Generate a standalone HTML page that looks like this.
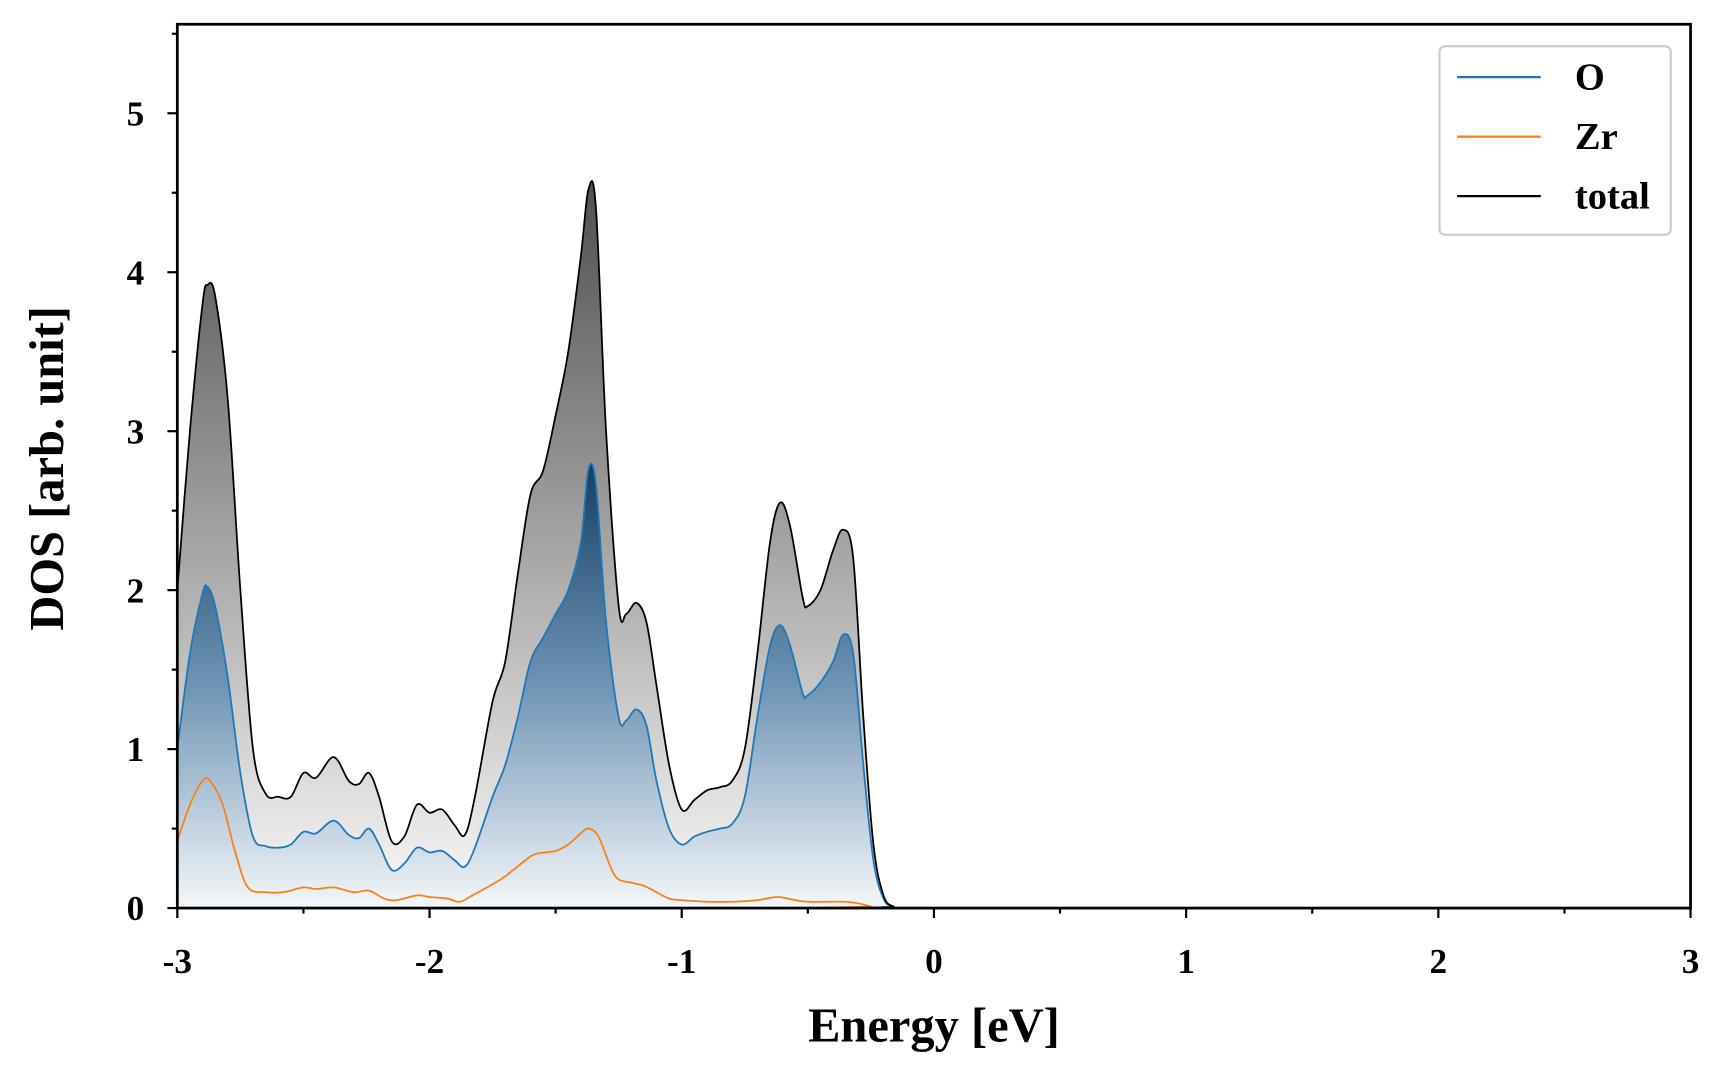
<!DOCTYPE html>
<html><head><meta charset="utf-8"><style>
html,body{margin:0;padding:0;background:#fff}
svg{display:block;font-family:"Liberation Serif",serif;font-weight:bold}
</style></head><body>
<svg id="chart" width="1728" height="1080" viewBox="0 0 1569 980" preserveAspectRatio="none" xmlns="http://www.w3.org/2000/svg">
<defs>
<linearGradient id="gGray" gradientUnits="userSpaceOnUse" x1="0" y1="168" x2="0" y2="824">
<stop offset="0" stop-color="#505050"/><stop offset="1" stop-color="#fafafa"/></linearGradient>
<linearGradient id="gBlue" gradientUnits="userSpaceOnUse" x1="0" y1="423" x2="0" y2="824">
<stop offset="0" stop-color="#143f66"/><stop offset="0.5" stop-color="#6f95b5"/><stop offset="1" stop-color="#f4f7fa"/></linearGradient>
<clipPath id="clip"><rect x="161" y="22" width="1374" height="802"/></clipPath>
</defs>
<g id="plot" clip-path="url(#clip)"></g>
<g id="axes"></g>
<g id="legend">
<rect x="1307" y="42" width="210" height="171" rx="5" fill="#fff" stroke="#cccccc" stroke-width="2"/>
<line x1="1323" y1="70" x2="1399" y2="70" stroke="#1f77b4" stroke-width="2"/>
<text x="1430" y="81" font-size="35">O</text>
<line x1="1323" y1="124" x2="1399" y2="124" stroke="#ff7f0e" stroke-width="2"/>
<text x="1430" y="135" font-size="35">Zr</text>
<line x1="1323" y1="178" x2="1399" y2="178" stroke="#000" stroke-width="2"/>
<text x="1430" y="189" font-size="35">total</text>
</g>
<text x="848" y="945" font-size="44" text-anchor="middle">Energy [eV]</text>
<text transform="translate(57,425) rotate(-90)" font-size="44" text-anchor="middle">DOS [arb. unit]</text>
</svg>
<script>
const energy = [-3,-2.95,-2.9,-2.88,-2.85,-2.8,-2.75,-2.7,-2.65,-2.6,-2.55,-2.5,-2.45,-2.38,-2.32,-2.28,-2.24,-2.2,-2.15,-2.1,-2.05,-2.0,-1.95,-1.9,-1.86,-1.82,-1.75,-1.7,-1.65,-1.6,-1.55,-1.5,-1.45,-1.4,-1.37,-1.34,-1.3,-1.25,-1.22,-1.18,-1.14,-1.1,-1.05,-1.0,-0.95,-0.9,-0.85,-0.8,-0.75,-0.7,-0.65,-0.61,-0.57,-0.52,-0.5,-0.45,-0.4,-0.36,-0.32,-0.28,-0.24,-0.2,-0.16,-0.1,3];
const totalDos = [2.0,3.0,3.8,3.92,3.85,3.2,2.0,1.0,0.72,0.70,0.70,0.85,0.82,0.95,0.80,0.78,0.85,0.70,0.42,0.45,0.65,0.60,0.62,0.52,0.46,0.70,1.30,1.55,2.10,2.60,2.75,3.10,3.50,4.10,4.52,4.40,3.00,1.90,1.85,1.92,1.80,1.40,0.90,0.62,0.68,0.74,0.76,0.80,1.00,1.60,2.30,2.55,2.40,1.95,1.90,2.00,2.25,2.38,2.20,1.20,0.40,0.08,0.01,0,0];
const oDos = [1.0,1.6,1.98,2.02,1.9,1.45,0.85,0.45,0.39,0.38,0.40,0.48,0.47,0.55,0.46,0.44,0.50,0.40,0.24,0.28,0.38,0.35,0.36,0.30,0.26,0.38,0.70,0.90,1.20,1.55,1.70,1.85,2.00,2.30,2.76,2.66,1.80,1.20,1.18,1.25,1.15,0.80,0.50,0.40,0.45,0.48,0.50,0.53,0.70,1.20,1.65,1.78,1.65,1.35,1.34,1.42,1.55,1.72,1.60,0.90,0.30,0.06,0.01,0,0];
const zrEnergy = [-3,-2.95,-2.9,-2.87,-2.82,-2.77,-2.72,-2.65,-2.58,-2.5,-2.45,-2.38,-2.3,-2.24,-2.18,-2.13,-2.05,-2.0,-1.93,-1.88,-1.83,-1.75,-1.7,-1.62,-1.58,-1.5,-1.45,-1.4,-1.37,-1.33,-1.28,-1.25,-1.2,-1.15,-1.1,-1.05,-1.0,-0.9,-0.8,-0.7,-0.62,-0.55,-0.5,-0.4,-0.35,-0.3,-0.25,-0.2,3];
const zrDos = [0.42,0.65,0.80,0.80,0.65,0.35,0.13,0.10,0.10,0.13,0.12,0.13,0.10,0.11,0.06,0.05,0.08,0.07,0.06,0.04,0.08,0.15,0.20,0.30,0.34,0.36,0.40,0.47,0.50,0.45,0.25,0.18,0.16,0.14,0.10,0.06,0.05,0.04,0.04,0.05,0.07,0.05,0.04,0.04,0.04,0.03,0.01,0,0];
const xTicks = [-3,-2,-1,0,1,2,3];
const yTicks = [0,1,2,3,4,5];

const X0=161,X1=1535,Y0=824,Y1=22,XMIN=-3,XMAX=3,YMIN=0,YMAX=5.56;
const xs = v => X0+(v-XMIN)/(XMAX-XMIN)*(X1-X0);
const ys = v => Y0-(v-YMIN)/(YMAX-YMIN)*(Y0-Y1);
const NS="http://www.w3.org/2000/svg";
function linePath(ex, vals){
  const p = ex.map((e,i)=>[xs(e),ys(vals[i])]);
  let d="M"+p[0][0]+","+p[0][1];
  for(let i=0;i<p.length-1;i++){
    const a=p[Math.max(i-1,0)],b=p[i],c=p[i+1],e=p[Math.min(i+2,p.length-1)];
    const c1x=b[0]+(c[0]-a[0])/6,c1y=b[1]+(c[1]-a[1])/6,c2x=c[0]-(e[0]-b[0])/6,c2y=c[1]-(e[1]-b[1])/6;
    d+=" C"+c1x+","+Math.min(c1y,Y0)+" "+c2x+","+Math.min(c2y,Y0)+" "+c[0]+","+c[1];
  }
  return d;
}
function mk(tag,attrs,parent){const el=document.createElementNS(NS,tag);for(const k in attrs)el.setAttribute(k,attrs[k]);parent.appendChild(el);return el;}
const plot=document.getElementById('plot'), axes=document.getElementById('axes');
const tl=linePath(energy,totalDos), ol=linePath(energy,oDos), zl=linePath(zrEnergy,zrDos);
const close=" L"+xs(XMAX)+","+Y0+" L"+xs(XMIN)+","+Y0+" Z";
let el;
el=mk('path',{d:tl+close,fill:'url(#gGray)',stroke:'none'},plot);


el=mk('path',{d:ol+close,fill:'url(#gBlue)',stroke:'none'},plot);


el=mk('path',{d:zl,fill:'none',stroke:'#ff7f0e','stroke-width':1.6},plot);


el=mk('path',{d:ol,fill:'none',stroke:'#1f77b4','stroke-width':1.6},plot);


el=mk('path',{d:tl,fill:'none',stroke:'#000','stroke-width':1.6},plot);


el=mk('rect',{x:X0,y:Y1,width:X1-X0,height:Y0-Y1,fill:'none',stroke:'#000','stroke-width':2.5},axes);


for(let v=-3;v<=3.001;v+=0.5){
  const major=Math.abs(v-Math.round(v))<1e-6;
  el=mk('line',{x1:xs(v),x2:xs(v),y1:Y0,y2:Y0+(major?9:5),stroke:'#000','stroke-width':2},axes);
  
  
}
xTicks.forEach(v=>{
  el=mk('text',{x:xs(v),y:883,'font-size':32,'text-anchor':'middle'},axes);
  el.textContent=v;
  
  
});
for(let v=0;v<=5.5;v+=0.5){
  const major=Math.abs(v-Math.round(v))<1e-6;
  el=mk('line',{x1:X0-(major?9:5),x2:X0,y1:ys(v),y2:ys(v),stroke:'#000','stroke-width':2},axes);
  
  
}
yTicks.forEach(v=>{
  el=mk('text',{x:131,y:ys(v)+11,'font-size':32,'text-anchor':'end'},axes);
  el.textContent=v;
  
  
});
</script>
</body></html>
